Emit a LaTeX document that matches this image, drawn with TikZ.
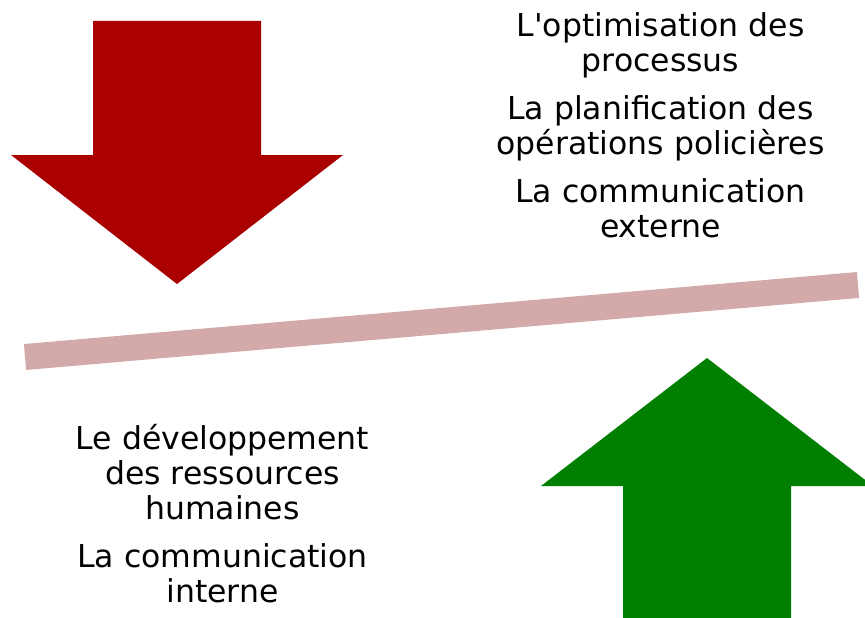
\documentclass[tikz,border=0pt]{standalone}
\usepackage{fontspec}
\setmainfont{DejaVu Sans}
\usepackage{tikz}
\usetikzlibrary{positioning}
\definecolor{downred}{HTML}{AA0000}
\definecolor{upgreen}{HTML}{007F00}
\definecolor{beam}{HTML}{D3A9A9}

\begin{document}
\begin{tikzpicture}[x=1pt,y=-1pt,
  node distance = 13pt,
  item/.style = {inner sep=0pt,align=center,anchor=north,
  font=\fontsize{31.5}{35}\selectfont,
  execute at begin node=\strut, execute at end node=\strut},
  down/.style = {fill=downred,draw=none},
  up/.style = {fill=upgreen,draw=none},
  lever/.style = {draw=beam,line width=26pt}]
 \useasboundingbox (0,0) rectangle (865,618);
 \clip (0,0) rectangle (865,618);
 % arrows
 \fill[down] (93,21) -- (261,21) -- (261,155) -- (343,155) -- (177,284)
  -- (11,155) -- (93,155) -- cycle;
 \fill[up] (707,358) -- (873,486) -- (791,486) -- (791,620) -- (623,620)
  -- (623,486) -- (541,486) -- cycle;
 % beam
 \coordinate (l) at (25,357);
 \coordinate (r) at (858,285);
 \draw[lever] (l) -- (r);
 % text
 \node[item] (t1) at (660.5,12.5) {L\textquotesingle optimisation des\\processus};
 \node[item,below=of t1] (t2) {La planification des\\opérations policières};
 \node[item,below=of t2] (t3) {La communication\\externe};
 \node[item] (b1) at (222.5,424.5) {Le développement\\des ressources\\humaines};
 \node[item,below=of b1] (b2) {La communication\\interne};
\end{tikzpicture}
\end{document}
